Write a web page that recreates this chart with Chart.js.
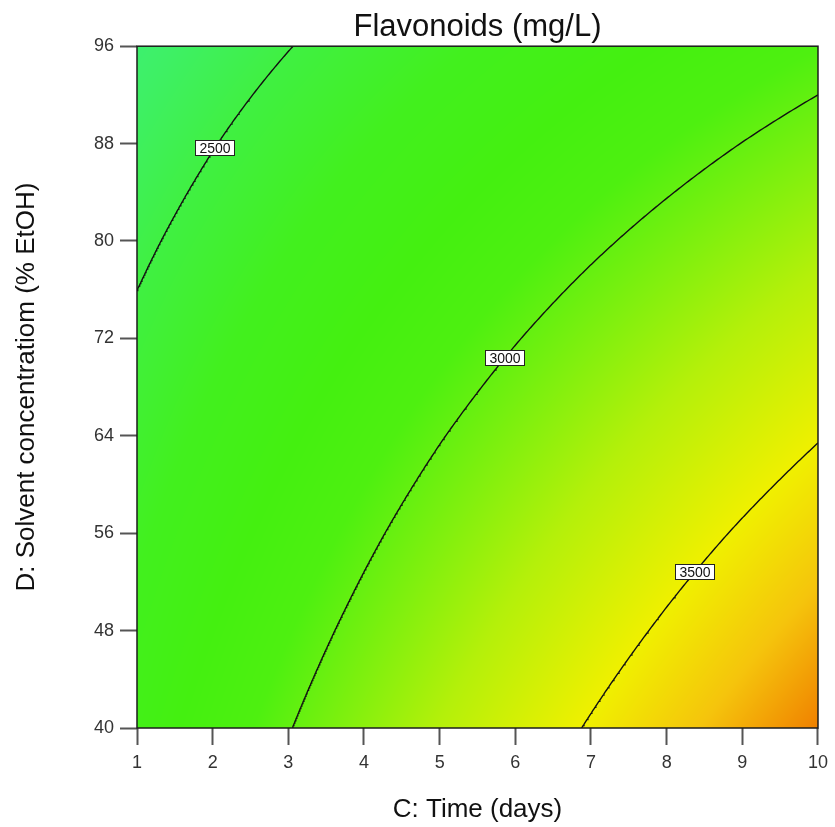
<!DOCTYPE html>
<html>
<head>
<meta charset="utf-8">
<title>Flavonoids (mg/L)</title>
<script src="https://cdn.jsdelivr.net/npm/chart.js@4.4.1/dist/chart.umd.min.js"></script>
<style>
  html, body { margin: 0; padding: 0; background: #fff; }
  #wrap { width: 835px; height: 827px; }
</style>
</head>
<body>
<div id="wrap"><canvas id="ctx"></canvas></div>
<script>
// response grid: columns are days, rows are ethanol levels
const timeDays = [1, 2, 3, 4, 5, 6, 7, 8, 9, 10];
const ethanolPct = [40, 48, 56, 64, 72, 80, 88, 96];
const flavonoids = [
  [2726, 2860, 2993, 3125, 3256, 3387, 3516, 3645, 3772, 3899],
  [2677, 2802, 2925, 3047, 3169, 3290, 3409, 3528, 3646, 3764],
  [2628, 2742, 2856, 2969, 3081, 3192, 3302, 3412, 3520, 3627],
  [2577, 2682, 2786, 2890, 2992, 3093, 3194, 3293, 3392, 3490],
  [2526, 2621, 2715, 2809, 2901, 2993, 3084, 3174, 3263, 3351],
  [2473, 2558, 2643, 2727, 2810, 2892, 2973, 3053, 3133, 3211],
  [2419, 2495, 2570, 2644, 2718, 2790, 2862, 2932, 3002, 3071],
  [2364, 2431, 2496, 2561, 2624, 2687, 2749, 2810, 2870, 2929]
];
const contourLevels = [2500, 3000, 3500];
// ethanol value where each contour carries its label
const labelAtEthanol = [87.6, 70.4, 52.8];

const FONT = '"Liberation Sans", Arial, Helvetica, sans-serif';

// value -> colour ramp (green through yellow to orange)
const colourStops = [
  [2300, [60, 240, 128]],
  [2400, [62, 240, 100]],
  [2500, [64, 240, 66]],
  [2650, [66, 240, 30]],
  [2800, [68, 240, 16]],
  [2930, [78, 240, 16]],
  [3000, [100, 240, 16]],
  [3250, [180, 240, 10]],
  [3500, [240, 240, 0]],
  [3700, [245, 196, 12]],
  [3900, [240, 128, 0]]
];

function colourFor(v) {
  if (v <= colourStops[0][0]) return colourStops[0][1];
  for (let i = 0; i < colourStops.length - 1; i++) {
    const [v0, c0] = colourStops[i];
    const [v1, c1] = colourStops[i + 1];
    if (v <= v1) {
      const t = (v - v0) / (v1 - v0);
      return [0, 1, 2].map(k => c0[k] + (c1[k] - c0[k]) * t);
    }
  }
  return colourStops[colourStops.length - 1][1];
}

function segment(arr, v) {
  let i = 0;
  while (i < arr.length - 2 && v > arr[i + 1]) i++;
  return i;
}

function clamp(v, lo, hi) {
  return Math.min(hi, Math.max(lo, v));
}

// bilinear lookup in the grid
function surface(c, d) {
  c = clamp(c, timeDays[0], timeDays[timeDays.length - 1]);
  d = clamp(d, ethanolPct[0], ethanolPct[ethanolPct.length - 1]);
  const i = segment(timeDays, c);
  const j = segment(ethanolPct, d);
  const tx = (c - timeDays[i]) / (timeDays[i + 1] - timeDays[i]);
  const ty = (d - ethanolPct[j]) / (ethanolPct[j + 1] - ethanolPct[j]);
  const a = flavonoids[j][i], b = flavonoids[j][i + 1];
  const e = flavonoids[j + 1][i], f = flavonoids[j + 1][i + 1];
  return (a * (1 - tx) + b * tx) * (1 - ty) + (e * (1 - tx) + f * tx) * ty;
}

function crossing(xs, vals, level) {
  for (let i = 0; i < vals.length - 1; i++) {
    const v0 = vals[i] - level, v1 = vals[i + 1] - level;
    if (v0 === 0) return xs[i];
    if (v0 * v1 < 0 || v1 === 0) return xs[i] + (xs[i + 1] - xs[i]) * v0 / (v0 - v1);
  }
  return null;
}

function traceContour(level) {
  const pts = [];
  const dMin = ethanolPct[0], dMax = ethanolPct[ethanolPct.length - 1];
  const steps = 560;
  for (let k = 0; k <= steps; k++) {
    const d = dMin + (dMax - dMin) * k / steps;
    const c = crossing(timeDays, timeDays.map(t => surface(t, d)), level);
    if (c !== null) pts.push({ x: c, y: d });
  }
  // exits through the left / right edge
  [timeDays[0], timeDays[timeDays.length - 1]].forEach(c => {
    const d = crossing(ethanolPct, ethanolPct.map(e => surface(c, e)), level);
    if (d !== null) pts.push({ x: c, y: d });
  });
  pts.sort((p, q) => p.y - q.y);
  return pts;
}

const heatPlugin = {
  id: 'heat',
  beforeDatasetsDraw(chart) {
    const { ctx, chartArea: a, scales: { x, y } } = chart;
    const w = Math.round(a.right - a.left);
    const h = Math.round(a.bottom - a.top);
    const off = document.createElement('canvas');
    off.width = w;
    off.height = h;
    const octx = off.getContext('2d');
    const img = octx.createImageData(w, h);
    for (let py = 0; py < h; py++) {
      const d = y.getValueForPixel(a.top + py + 0.5);
      for (let px = 0; px < w; px++) {
        const c = x.getValueForPixel(a.left + px + 0.5);
        const col = colourFor(surface(c, d));
        const k = (py * w + px) * 4;
        img.data[k] = col[0];
        img.data[k + 1] = col[1];
        img.data[k + 2] = col[2];
        img.data[k + 3] = 255;
      }
    }
    octx.putImageData(img, 0, 0);
    ctx.drawImage(off, a.left, a.top, a.right - a.left, a.bottom - a.top);
  }
};

const framePlugin = {
  id: 'frame',
  afterDatasetsDraw(chart) {
    const { ctx, chartArea: a, scales: { x, y } } = chart;
    ctx.save();
    ctx.strokeStyle = '#1c1c1c';
    ctx.lineWidth = 1.5;
    ctx.strokeRect(a.left, a.top, a.right - a.left, a.bottom - a.top);

    ctx.font = '14px ' + FONT;
    ctx.textAlign = 'center';
    ctx.textBaseline = 'middle';
    chart.data.datasets.forEach((ds, i) => {
      const target = labelAtEthanol[i];
      let best = ds.data[0];
      ds.data.forEach(p => {
        if (Math.abs(p.y - target) < Math.abs(best.y - target)) best = p;
      });
      const px = Math.round(x.getPixelForValue(best.x));
      const py = Math.round(y.getPixelForValue(best.y));
      const bw = 40, bh = 16;
      ctx.fillStyle = '#fff';
      ctx.fillRect(px - bw / 2, py - bh / 2, bw, bh);
      ctx.lineWidth = 1;
      ctx.strokeStyle = '#222';
      ctx.strokeRect(px - bw / 2 + 0.5, py - bh / 2 + 0.5, bw - 1, bh - 1);
      ctx.fillStyle = '#111';
      ctx.fillText(String(contourLevels[i]), px, py + 1);
    });
    ctx.restore();
  }
};

const datasets = contourLevels.map(level => ({
  label: String(level),
  data: traceContour(level),
  borderColor: '#111',
  borderWidth: 1.4,
  pointRadius: 0,
  tension: 0,
  fill: false
}));

new Chart(document.getElementById('ctx'), {
  type: 'line',
  data: { datasets: datasets },
  plugins: [heatPlugin, framePlugin],
  options: {
    responsive: true,
    maintainAspectRatio: false,
    animation: false,
    layout: { padding: { left: 0, right: 16, top: 0, bottom: 0 } },
    plugins: {
      legend: { display: false },
      tooltip: { enabled: false },
      title: {
        display: true,
        fullSize: false,
        text: 'Flavonoids (mg/L)',
        color: '#111',
        font: { family: FONT, size: 31, weight: 'normal' },
        padding: { top: 9, bottom: 0 }
      }
    },
    scales: {
      x: {
        type: 'linear',
        min: 1,
        max: 10,
        border: { display: false },
        grid: { drawOnChartArea: false, tickLength: 17, tickColor: '#555', tickWidth: 2 },
        ticks: { stepSize: 1, color: '#333', padding: 7, font: { family: FONT, size: 18 } },
        title: {
          display: true,
          text: 'C: Time (days)',
          color: '#111',
          font: { family: FONT, size: 26 },
          padding: { top: 0, bottom: 2 }
        },
        afterFit(s) { s.height = 99; }
      },
      y: {
        type: 'linear',
        min: 40,
        max: 96,
        border: { display: false },
        grid: { drawOnChartArea: false, tickLength: 17, tickColor: '#555', tickWidth: 2 },
        ticks: { stepSize: 8, color: '#333', padding: 6, font: { family: FONT, size: 18 } },
        title: {
          display: true,
          text: 'D: Solvent concentratiom (% EtOH)',
          color: '#111',
          font: { family: FONT, size: 26 },
          padding: { top: 11, bottom: 0 }
        },
        afterFit(s) { s.width = 137; }
      }
    }
  }
});
</script>
</body>
</html>
